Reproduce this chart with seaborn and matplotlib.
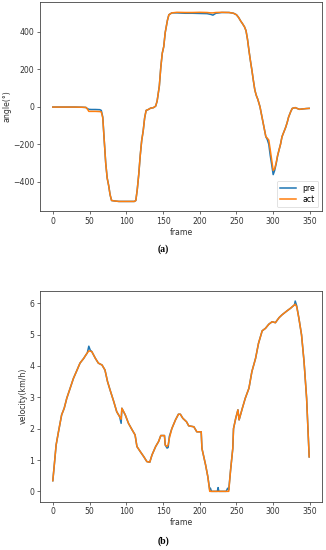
import matplotlib
matplotlib.use("Agg")
import matplotlib.pyplot as plt
import seaborn as sns
import pandas as pd

# ---------------- data: (a) steering angle ----------------
angle_frames = [0, 10, 20, 30, 40, 45, 47, 49, 52, 58, 64, 66, 68, 70, 72, 74, 76, 78, 80, 85,
                90, 100, 108, 111, 113, 115, 117, 119, 121, 123, 125, 127, 130, 133, 137, 140,
                142, 145, 147, 149, 151, 153, 156, 158, 162, 169, 180, 190, 200, 210, 215, 218,
                222, 230, 240, 246, 250, 253, 256, 258, 261, 263, 265, 267, 269, 271, 273, 275,
                277, 279, 282, 284, 287, 290, 292, 294, 296, 298, 300, 302, 304, 306, 308, 310,
                312, 315, 317, 319, 321, 324, 326, 330, 333, 336, 340, 345, 349]
angle_act = [-2, -2, -2, -2, -3, -4, -12, -25, -25, -25, -26, -28, -60, -180, -300, -380, -420,
             -470, -500, -503, -505, -505, -505, -505, -500, -440, -360, -260, -180, -130, -60,
             -20, -15, -8, -5, 3, 30, 110, 210, 285, 320, 395, 460, 490, 500, 503, 502, 502,
             503, 502, 500, 500, 502, 503, 502, 498, 490, 475, 455, 444, 425, 405, 360, 300,
             245, 195, 140, 89, 60, 40, 0, -40, -100, -160, -168, -178, -230, -285, -340, -330,
             -300, -260, -230, -200, -160, -130, -110, -85, -55, -25, -9, -5, -10, -14, -12,
             -10, -9]
angle_pre = [-2, -2, -2, -2, -3, -4, -10, -14, -15, -15, -16, -20, -55, -180, -300, -380, -420,
             -470, -500, -503, -505, -505, -505, -505, -500, -440, -360, -260, -180, -130, -60,
             -20, -15, -8, -5, 3, 30, 110, 210, 285, 320, 395, 460, 490, 500, 500, 498, 498,
             497, 496, 492, 488, 498, 502, 502, 498, 490, 475, 455, 444, 425, 405, 360, 300,
             245, 195, 140, 89, 60, 40, 0, -40, -100, -160, -175, -200, -260, -310, -362, -340,
             -305, -262, -230, -200, -160, -130, -110, -85, -55, -25, -9, -5, -10, -14, -12,
             -10, -9]

# ---------------- data: (b) velocity ----------------
vel_frames = [0, 2, 4.5, 7.7, 12, 15.5, 19, 23.6, 28, 33, 37, 42, 45, 47, 49, 51, 53, 58, 62,
              67, 71, 74.5, 78, 83, 87, 91, 93, 94, 98.6, 103, 108, 112, 114.5, 119, 124, 128,
              132, 135, 140, 144, 147, 150, 152, 153, 155.5, 157, 158.6, 162, 167, 171, 173.6,
              177, 182, 185, 192, 196, 202, 203, 208, 211, 213.6, 214.5, 216, 224, 225, 226,
              236, 238, 239.5, 242, 245, 246, 249, 252, 253.6, 258, 262, 267, 271, 276, 280,
              285, 289.5, 294, 298.6, 303, 308, 312, 319, 323.6, 329, 330, 332, 335, 338.6, 342,
              345.5, 349]
vel_act = [0.34, 0.84, 1.48, 1.9, 2.44, 2.65, 2.97, 3.29, 3.6, 3.87, 4.09, 4.24, 4.35, 4.42,
           4.48, 4.47, 4.46, 4.24, 4.09, 4.03, 3.87, 3.5, 3.23, 2.86, 2.54, 2.38, 2.3, 2.65,
           2.44, 2.17, 1.96, 1.8, 1.43, 1.27, 1.1, 0.95, 0.93, 1.16, 1.43, 1.59, 1.78, 1.78,
           1.78, 1.48, 1.43, 1.48, 1.69, 2.0, 2.28, 2.46, 2.46, 2.33, 2.22, 2.09, 2.06, 1.9,
           1.9, 1.37, 0.84, 0.47, 0.0, 0.0, 0.0, 0.0, 0.0, 0.0, 0.0, 0.0, 0.0, 0.68, 1.37, 2.0,
           2.33, 2.6, 2.28, 2.65, 2.97, 3.29, 3.82, 4.24, 4.72, 5.12, 5.2, 5.33, 5.41, 5.38,
           5.54, 5.63, 5.76, 5.84, 5.95, 5.97, 5.89, 5.52, 4.99, 4.14, 2.97, 1.1]
vel_pre = [0.34, 0.84, 1.48, 1.9, 2.44, 2.65, 2.97, 3.29, 3.6, 3.87, 4.09, 4.24, 4.35, 4.42,
           4.63, 4.5, 4.46, 4.24, 4.09, 4.03, 3.87, 3.5, 3.23, 2.86, 2.54, 2.38, 2.17, 2.65,
           2.44, 2.17, 1.96, 1.8, 1.43, 1.27, 1.1, 0.95, 0.93, 1.16, 1.43, 1.59, 1.78, 1.78,
           1.78, 1.48, 1.38, 1.4, 1.75, 2.0, 2.28, 2.46, 2.46, 2.33, 2.22, 2.09, 2.06, 1.9,
           1.9, 1.37, 0.84, 0.47, 0.05, 0.1, 0.0, 0.0, 0.12, 0.0, 0.0, 0.1, 0.05, 0.68, 1.37,
           2.0, 2.33, 2.6, 2.28, 2.65, 2.97, 3.29, 3.82, 4.24, 4.72, 5.12, 5.2, 5.33, 5.41,
           5.38, 5.54, 5.63, 5.76, 5.84, 5.95, 6.07, 5.92, 5.52, 4.99, 4.14, 2.97, 1.1]

series_names = ["pre", "act"]
blue = "#1f77b4"
orange = "#ff7f0e"

FS = 5.6
plt.rcParams.update({
    "font.family": ["DejaVu Sans"],
    "axes.linewidth": 0.6,
    "axes.edgecolor": "#444444",
    "xtick.labelsize": FS,
    "ytick.labelsize": FS,
    "xtick.major.size": 2,
    "ytick.major.size": 2,
    "xtick.major.width": 0.5,
    "ytick.major.width": 0.5,
    "xtick.major.pad": 2,
    "ytick.major.pad": 2,
    "xtick.color": "#333333",
    "ytick.color": "#333333",
})

fig = plt.figure(figsize=(3.26, 5.5), dpi=100)
ax1 = fig.add_axes([40 / 326, 1 - 211 / 550, 282 / 326, 209 / 550])
ax2 = fig.add_axes([40 / 326, 1 - 501.7 / 550, 282 / 326, 211 / 550])

df_a = pd.DataFrame({"frame": angle_frames, "pre": angle_pre, "act": angle_act})
df_b = pd.DataFrame({"frame": vel_frames, "pre": vel_pre, "act": vel_act})

for ax, df, ylab in [(ax1, df_a, "angle(°)"), (ax2, df_b, "velocity(km/h)")]:
    sns.lineplot(data=df, x="frame", y="pre", ax=ax, color=blue, lw=1.1, label="pre", sort=False)
    sns.lineplot(data=df, x="frame", y="act", ax=ax, color=orange, lw=1.1, label="act", sort=False)
    ax.set_xlim(-17.45, 366.45)
    ax.set_xticks([0, 50, 100, 150, 200, 250, 300, 350])
    ax.set_xlabel("frame", fontsize=FS, labelpad=1.5, color="#333333")
    ax.set_ylabel(ylab, fontsize=FS, labelpad=1.5, color="#333333")

ax1.set_ylim(-556, 558)
ax1.set_yticks([-400, -200, 0, 200, 400])
ax2.set_ylim(-0.33, 6.4)
ax2.set_yticks([0, 1, 2, 3, 4, 5, 6])

leg = ax1.legend(loc="lower right", fontsize=FS, handlelength=2.0, borderpad=0.4,
                 labelspacing=0.3, handletextpad=0.8, frameon=True)
leg.get_frame().set_linewidth(0.5)
if ax2.get_legend() is not None:
    ax2.get_legend().remove()

fig.text(163 / 326, 1 - 249 / 550, "(a)", ha="center", va="center", fontsize=7,
         fontweight="bold", family=["Liberation Serif", "DejaVu Serif"])
fig.text(163 / 326, 1 - 541.5 / 550, "(b)", ha="center", va="center", fontsize=7,
         fontweight="bold", family=["Liberation Serif", "DejaVu Serif"])

fig.savefig("out.png", dpi=100)
